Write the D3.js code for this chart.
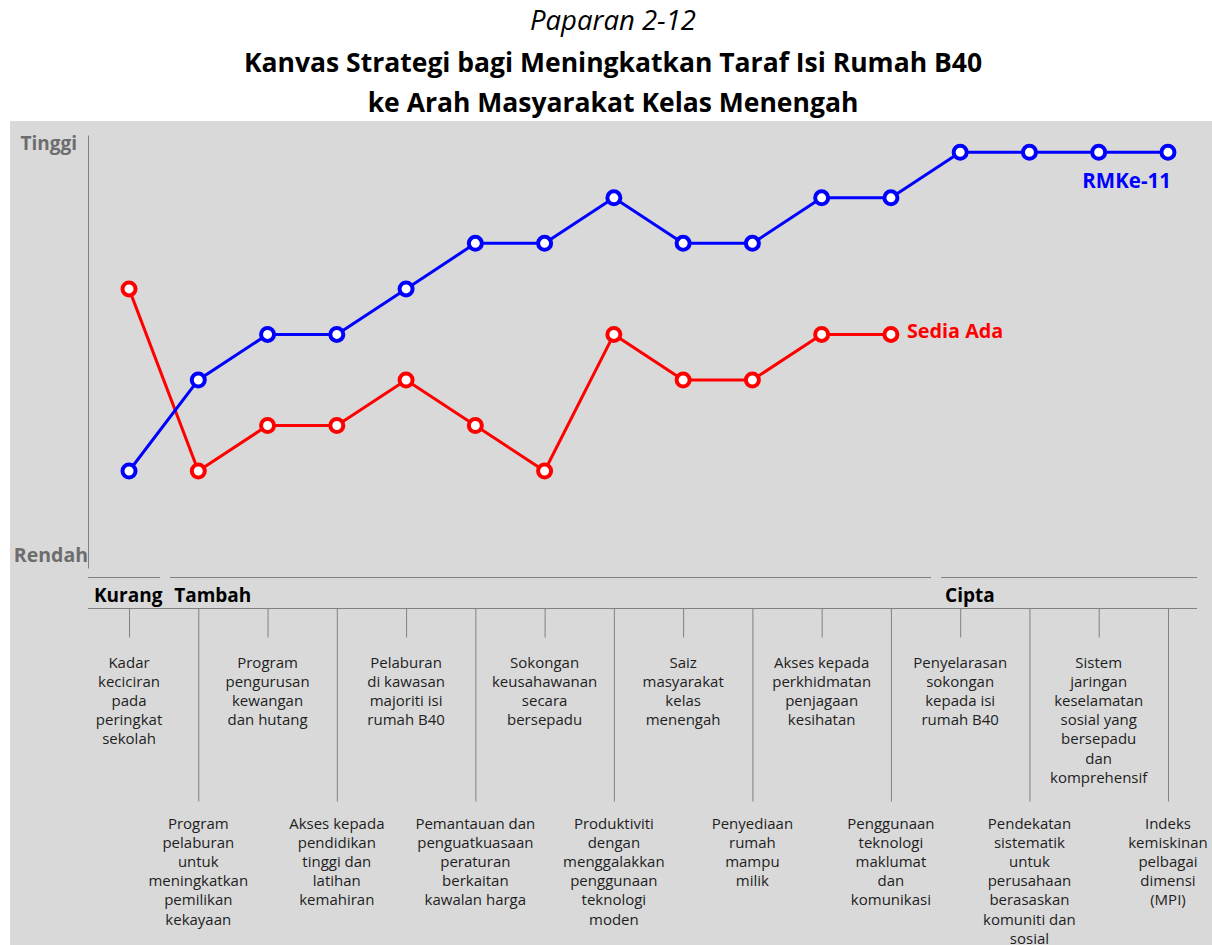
<!DOCTYPE html>
<html>
<head>
<meta charset="utf-8">
<script src="https://cdn.jsdelivr.net/npm/d3@7"></script>
<style>
  body { margin: 0; background: #fff; }
  svg { display: block; }
  text { font-family: "Open Sans", sans-serif; }
</style>
</head>
<body>
<svg id="chart" width="1212" height="945"></svg>
<script>
// strategy factors, one label (as lines) per position
const categories = [
    ["Kadar", "keciciran", "pada", "peringkat", "sekolah"],
    ["Program", "pelaburan", "untuk", "meningkatkan", "pemilikan", "kekayaan"],
    ["Program", "pengurusan", "kewangan", "dan hutang"],
    ["Akses kepada", "pendidikan", "tinggi dan", "latihan", "kemahiran"],
    ["Pelaburan", "di kawasan", "majoriti isi", "rumah B40"],
    ["Pemantauan dan", "penguatkuasaan", "peraturan", "berkaitan", "kawalan harga"],
    ["Sokongan", "keusahawanan", "secara", "bersepadu"],
    ["Produktiviti", "dengan", "menggalakkan", "penggunaan", "teknologi", "moden"],
    ["Saiz", "masyarakat", "kelas", "menengah"],
    ["Penyediaan", "rumah", "mampu", "milik"],
    ["Akses kepada", "perkhidmatan", "penjagaan", "kesihatan"],
    ["Penggunaan", "teknologi", "maklumat", "dan", "komunikasi"],
    ["Penyelarasan", "sokongan", "kepada isi", "rumah B40"],
    ["Pendekatan", "sistematik", "untuk", "perusahaan", "berasaskan", "komuniti dan", "sosial"],
    ["Sistem", "jaringan", "keselamatan", "sosial yang", "bersepadu", "dan", "komprehensif"],
    ["Indeks", "kemiskinan", "pelbagai", "dimensi", "(MPI)"]
];

const rmke11   = [1, 3, 4, 4, 5, 6, 6, 7, 6, 6, 7, 7, 8, 8, 8, 8];
const sediaAda = [5, 1, 2, 2, 3, 2, 1, 4, 3, 3, 4, 4];

const groupNames = ["Kurang", "Tambah", "Cipta"];
const groupStart = [0, 1, 12];
const groupEnd   = [0, 11, 15];

const levelLabels = ["Rendah", "Tinggi"];
const titleLines = ["Paparan 2-12",
    "Kanvas Strategi bagi Meningkatkan Taraf Isi Rumah B40",
    "ke Arah Masyarakat Kelas Menengah"];
const seriesNames = ["RMKe-11", "Sedia Ada"];

const BLUE = "#0000ff", RED = "#ff0000", LINE = "#808080";

let svg = d3.select("#chart");

// titles
svg.append("text")
    .attr("x", 613).attr("y", 30)
    .attr("text-anchor", "middle")
    .style("font-size", "27.5px").style("font-style", "italic")
    .text(titleLines[0]);
svg.selectAll("text.title")
    .data(titleLines.slice(1))
    .enter().append("text")
    .attr("class", "title")
    .attr("x", 613)
    .attr("y", (d, i) => 72 + i * 40)
    .attr("text-anchor", "middle")
    .style("font-size", "26.5px").style("font-weight", "bold")
    .text(d => d);

svg.append("rect")
    .attr("x", 10).attr("y", 121)
    .attr("width", 1202).attr("height", 824)
    .attr("fill", "#d9d9d9");

let x = d3.scalePoint()
    .domain(d3.range(categories.length))
    .range([94.4, 1202.6])
    .padding(0.5);
let step = x.step();

let y = d3.scaleLinear()
    .domain([-1.13, 8.38])
    .range([568, 135]);

let axisX = 88;

// vertical axis, no ticks
svg.append("g")
    .attr("transform", "translate(" + axisX + ",0)")
    .call(d3.axisLeft(y).tickValues([]).tickSizeOuter(0))
    .call(g => g.select(".domain").attr("stroke", LINE));

svg.append("text")
    .attr("x", axisX - 11).attr("y", 150)
    .attr("text-anchor", "end")
    .style("font-size", "19px").style("font-weight", "bold")
    .attr("fill", "#6d6d6d")
    .text(levelLabels[1]);
svg.append("text")
    .attr("x", axisX).attr("y", 562)
    .attr("text-anchor", "end")
    .style("font-size", "19.5px").style("font-weight", "bold")
    .attr("fill", "#6d6d6d")
    .text(levelLabels[0]);

// group bands above the factor list
let rightEnd = x(categories.length - 1) + step * 0.42;
groupNames.forEach(function(name, i) {
    let x0 = i == 0 ? axisX : x(groupStart[i]) - step / 2 + 3.5;
    let x1 = i == groupNames.length - 1 ? rightEnd : x(groupEnd[i]) + step / 2 - 3.5;
    if (i == 1) x0 += 3;
    if (i == 2) x0 += 12;
    if (i == 1) x1 += 9;
    svg.append("line")
        .attr("x1", x0).attr("x2", x1)
        .attr("y1", 577.5).attr("y2", 577.5)
        .attr("stroke", LINE);
    svg.append("text")
        .attr("x", x0 + (i == 0 ? 6 : 4)).attr("y", 602)
        .style("font-size", "19px").style("font-weight", "bold")
        .attr("fill", "#000")
        .text(name);
});

svg.append("line")
    .attr("x1", axisX).attr("x2", rightEnd)
    .attr("y1", 608.5).attr("y2", 608.5)
    .attr("stroke", LINE);

// ticks: short for labels above, long for labels below
let upper = d3.range(0, categories.length, 2),
    lower = d3.range(1, categories.length, 2);

svg.append("g")
    .attr("transform", "translate(0,608.5)")
    .call(d3.axisBottom(x).tickValues(upper).tickSize(29).tickFormat(""))
    .call(g => g.select(".domain").remove())
    .call(g => g.selectAll(".tick line").attr("stroke", LINE));
svg.append("g")
    .attr("transform", "translate(0,608.5)")
    .call(d3.axisBottom(x).tickValues(lower).tickSize(193).tickFormat(""))
    .call(g => g.select(".domain").remove())
    .call(g => g.selectAll(".tick line").attr("stroke", LINE));

let labels = svg.append("g")
    .selectAll("text")
    .data(categories)
    .enter().append("text")
    .attr("text-anchor", "middle")
    .attr("fill", "#1e1e1e")
    .style("font-size", "15px");
labels.each(function(lines, i) {
    let t = d3.select(this), top = i % 2 == 0 ? 668 : 829;
    lines.forEach(function(l, k) {
        t.append("tspan")
            .attr("x", x(i))
            .attr("y", top + k * 19.1)
            .text(l);
    });
});

// series
let line = d3.line()
    .x((d, i) => x(i))
    .y(d => y(d));

function drawSeries(values, color) {
    let g = svg.append("g");
    g.append("path")
        .datum(values)
        .attr("d", line)
        .attr("fill", "none")
        .attr("stroke", color)
        .attr("stroke-width", 3);
    g.selectAll("circle")
        .data(values)
        .enter().append("circle")
        .attr("cx", (d, i) => x(i))
        .attr("cy", d => y(d))
        .attr("r", 6.5)
        .attr("fill", "#fff")
        .attr("stroke", color)
        .attr("stroke-width", 4);
}

drawSeries(sediaAda, RED);
drawSeries(rmke11, BLUE);

let lastB = rmke11.length - 1, lastR = sediaAda.length - 1;
svg.append("text")
    .attr("x", x(lastB) + 3).attr("y", y(rmke11[lastB]) + 36)
    .attr("text-anchor", "end")
    .style("font-size", "20.5px").style("font-weight", "bold")
    .attr("fill", BLUE)
    .text(seriesNames[0]);
svg.append("text")
    .attr("x", x(lastR) + 16).attr("y", y(sediaAda[lastR]) + 4)
    .style("font-size", "19.8px").style("font-weight", "bold")
    .attr("fill", RED)
    .text(seriesNames[1]);
</script>
</body>
</html>
